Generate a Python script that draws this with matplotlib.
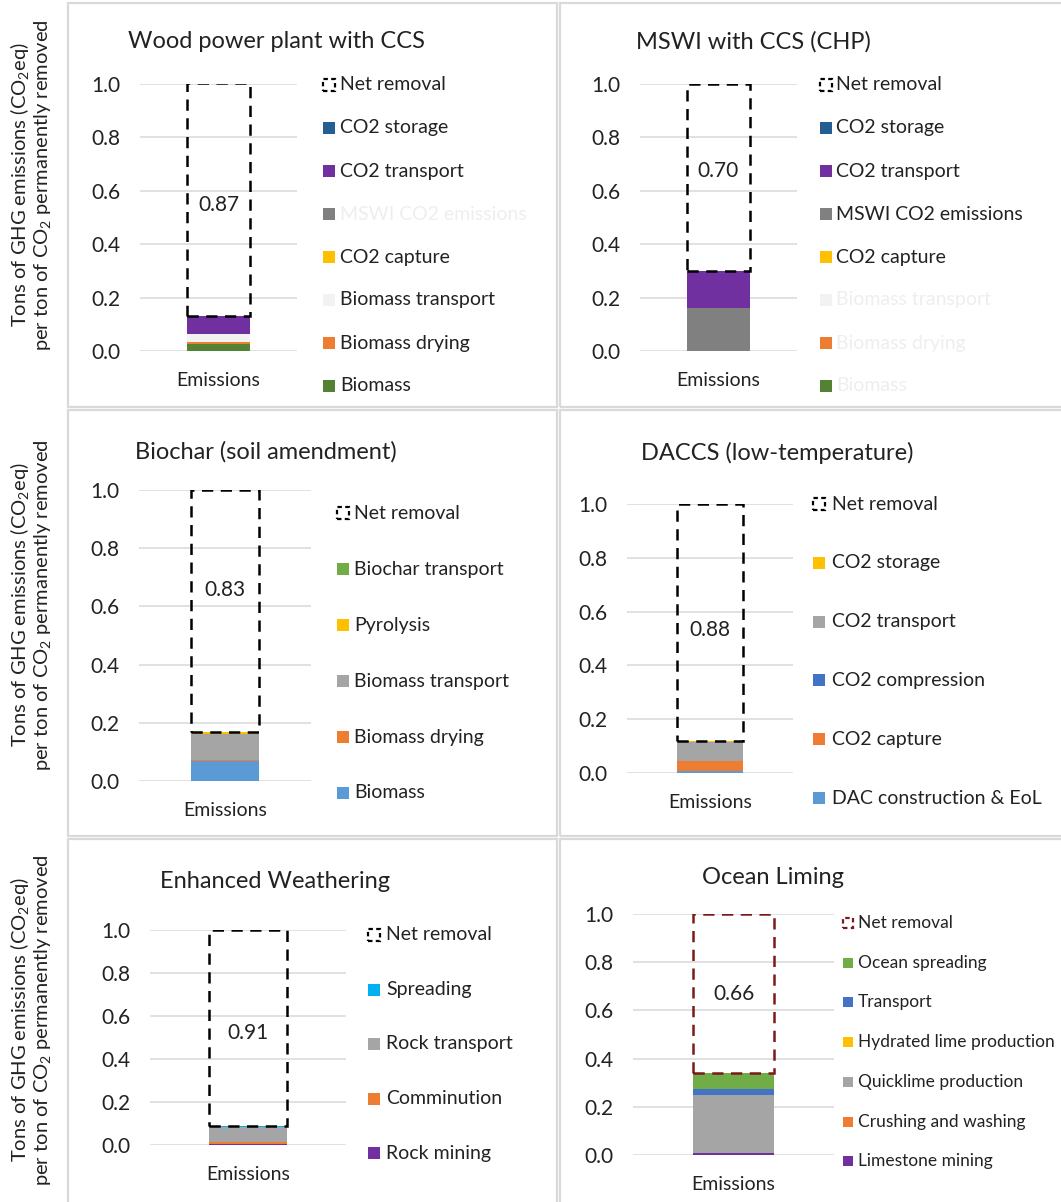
import numpy as np
import matplotlib
matplotlib.use('Agg')
import matplotlib.pyplot as plt
from matplotlib.patches import Rectangle

plt.rcParams['font.family'] = ['Lato', 'DejaVu Sans']
plt.rcParams['mathtext.fontset'] = 'custom'
plt.rcParams['mathtext.rm'] = 'Lato'
plt.rcParams['mathtext.default'] = 'regular'

# ---- data ----
wood_labels = ['Biomass', 'Biomass drying', 'Biomass transport', 'CO2 capture',
               'MSWI CO2 emissions', 'CO2 transport', 'CO2 storage']
wood_values = [0.028, 0.004, 0.030, 0.0, 0.0, 0.068, 0.002]
wood_net = 0.87

mswi_labels = wood_labels
mswi_values = [0.0, 0.0, 0.0, 0.0, 0.162, 0.136, 0.002]
mswi_net = 0.70

biochar_labels = ['Biomass', 'Biomass drying', 'Biomass transport', 'Pyrolysis', 'Biochar transport']
biochar_values = [0.07, 0.002, 0.09, 0.008, 0.0]
biochar_net = 0.83

dac_labels = ['DAC construction & EoL', 'CO2 capture', 'CO2 compression', 'CO2 transport', 'CO2 storage']
dac_values = [0.008, 0.035, 0.0, 0.072, 0.005]
dac_net = 0.88

ew_labels = ['Rock mining', 'Comminution', 'Rock transport', 'Spreading']
ew_values = [0.005, 0.008, 0.07, 0.007]
ew_net = 0.91

ocean_labels = ['Limestone mining', 'Crushing and washing', 'Quicklime production',
                'Hydrated lime production', 'Transport', 'Ocean spreading']
ocean_values = [0.008, 0.002, 0.24, 0.0, 0.024, 0.066]
ocean_net = 0.66

# ---- colours ----
wood_colors = ['#548235', '#ED7D31', '#F2F2F2', '#FFC000', '#808080', '#7030A0', '#255E91']
biochar_colors = ['#5B9BD5', '#ED7D31', '#A5A5A5', '#FFC000', '#70AD47']
dac_colors = ['#5B9BD5', '#ED7D31', '#4472C4', '#A5A5A5', '#FFC000']
ew_colors = ['#7030A0', '#ED7D31', '#A5A5A5', '#00B0F0']
ocean_colors = ['#7030A0', '#ED7D31', '#A5A5A5', '#FFC000', '#4472C4', '#70AD47']

W, H = 1061, 1202
fig = plt.figure(figsize=(W / 100, H / 100), dpi=100)
TXT = '#222222'


def fx(px):
    return px / W


def fy(py):
    return 1 - py / H


# panel borders
for (x0, y0, x1, y1) in [(68, 3, 557, 407), (560, 3, 1070, 407),
                         (68, 410, 557, 836), (560, 410, 1070, 836),
                         (68, 839, 557, 1210), (560, 839, 1070, 1210)]:
    fig.patches.append(Rectangle((fx(x0), fy(y1)), fx(x1 - x0), (y1 - y0) / H,
                                 transform=fig.transFigure, fill=False,
                                 edgecolor='#D9D9D9', lw=1.6))

# y labels (one per row)
for yc in [185, 605, 1020]:
    fig.text(fx(20), fy(yc), 'Tons of GHG emissions (CO$_2$eq)', rotation=90,
             ha='center', va='center', fontsize=14.5, color=TXT)
    fig.text(fx(43), fy(yc), 'per ton of CO$_2$ permanently removed', rotation=90,
             ha='center', va='center', fontsize=14.5, color=TXT)

panels = [
    dict(title='Wood power plant with CCS', labels=wood_labels, values=wood_values,
         colors=wood_colors, net=wood_net, netc='black', faded=['MSWI CO2 emissions'],
         box=(140, 297, 84, 351), tpos=(128, 42), lab_y=0.545,
         leg=(323, 340, 85, 43.0, 14, 12)),
    dict(title='MSWI with CCS (CHP)', labels=mswi_labels, values=mswi_values,
         colors=wood_colors, net=mswi_net, netc='black',
         faded=['Biomass transport', 'Biomass drying', 'Biomass'],
         box=(640, 797, 84, 351), tpos=(636, 42), lab_y=0.675,
         leg=(820, 836, 85, 43.0, 14, 12)),
    dict(title='Biochar (soil amendment)', labels=biochar_labels, values=biochar_values,
         colors=biochar_colors, net=biochar_net, netc='black', faded=[],
         box=(139, 311, 490, 781), tpos=(135, 452), lab_y=0.655,
         leg=(337, 354, 513, 56.0, 14, 12)),
    dict(title='DACCS (low-temperature)', labels=dac_labels, values=dac_values,
         colors=dac_colors, net=dac_net, netc='black', faded=[],
         box=(627, 793, 504, 773), tpos=(641, 453), lab_y=0.53,
         leg=(813, 832, 504, 58.8, 14, 12)),
    dict(title='Enhanced Weathering', labels=ew_labels, values=ew_values,
         colors=ew_colors, net=ew_net, netc='black', faded=[],
         box=(150, 346, 930, 1145), tpos=(160, 882), lab_y=0.52,
         leg=(368, 386, 935, 54.5, 14, 12)),
    dict(title='Ocean Liming', labels=ocean_labels, values=ocean_values,
         colors=ocean_colors, net=ocean_net, netc='#7B1A1A', faded=[],
         box=(633, 834, 914, 1155), tpos=(702, 877), lab_y=0.668,
         leg=(843, 858, 923, 39.7, 12.5, 10)),
]

for p in panels:
    x0, x1, yt, yb = p['box']
    ax = fig.add_axes([fx(x0), fy(yb), fx(x1 - x0), (yb - yt) / H])
    bottom = 0.0
    for v, c in zip(p['values'], p['colors']):
        ax.bar(0, v, width=0.4, bottom=bottom, color=c, linewidth=0, zorder=2)
        bottom += v
    ax.bar(0, p['net'], width=0.4, bottom=bottom, facecolor='none',
           edgecolor=p['netc'], linewidth=1.8, linestyle=(0, (4.5, 3)), zorder=3)
    ax.text(0, p['lab_y'], f"{p['net']:.2f}", ha='center', va='center',
            fontsize=15, color=TXT, zorder=4)
    ax.set_xlim(-0.5, 0.5)
    ax.set_ylim(0, 1.0)
    ax.set_yticks(np.arange(0, 1.01, 0.2))
    ax.set_yticklabels([f'{t:.1f}' for t in np.arange(0, 1.01, 0.2)])
    ax.set_xticks([0])
    ax.set_xticklabels(['Emissions'])
    ax.tick_params(axis='y', length=0, pad=14, labelsize=15, labelcolor=TXT)
    ax.tick_params(axis='x', length=0, pad=15, labelsize=14, labelcolor=TXT)
    ax.grid(axis='y', color='#D9D9D9', linewidth=1.1, zorder=0)
    ax.set_axisbelow(True)
    for s in ax.spines.values():
        s.set_visible(False)
    ax.patch.set_alpha(0)

    fig.text(fx(p['tpos'][0]), fy(p['tpos'][1]), p['title'], ha='left', va='center',
             fontsize=17, color=TXT)

    # legend: net removal first, then series from the top of the stack down
    mx, tx, ly0, dy, fs, ms = p['leg']
    items = [('Net removal', None)] + list(zip(p['labels'], p['colors']))[::-1]
    for i, (name, col) in enumerate(items):
        ly = ly0 + i * dy
        if col is None:
            r = Rectangle((fx(mx), fy(ly + ms / 2)), fx(ms), ms / H,
                          transform=fig.transFigure, facecolor='none',
                          edgecolor=p['netc'], lw=1.6, linestyle=(0, (2, 1.5)))
        else:
            r = Rectangle((fx(mx), fy(ly + ms / 2)), fx(ms), ms / H,
                          transform=fig.transFigure, facecolor=col, edgecolor='none')
        fig.patches.append(r)
        tc = '#EEEEEE' if name in p['faded'] else TXT
        fig.text(fx(tx), fy(ly), name, ha='left', va='center', fontsize=fs, color=tc)

fig.savefig('out.png', dpi=100)
